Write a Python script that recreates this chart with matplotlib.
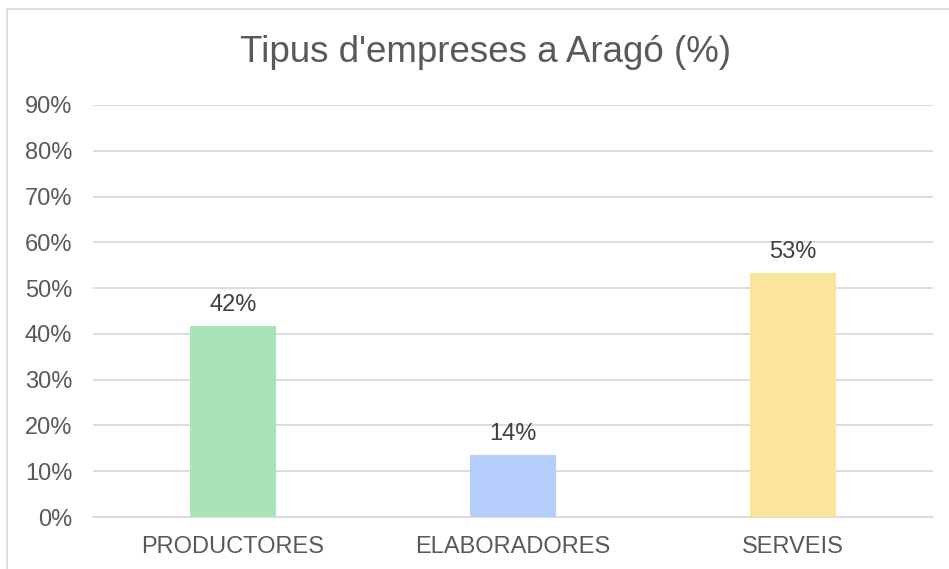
import matplotlib
matplotlib.use('Agg')
import matplotlib.pyplot as plt
from matplotlib.patches import Rectangle

categories = ['PRODUCTORES', 'ELABORADORES', 'SERVEIS']
values = [41.7, 13.6, 53.3]
colors = ['#a8e4b8', '#b4cdfa', '#fbe49c']
yticks = [0, 10, 20, 30, 40, 50, 60, 70, 80, 90]

plt.rcParams['font.family'] = ['Liberation Sans', 'DejaVu Sans']

W, H = 949, 569
fig = plt.figure(figsize=(W / 100, H / 100), dpi=100)

# chart frame (partly cut off on the right and bottom)
fig.patches.append(Rectangle((7 / W, -0.1), 1.2, 1 - 9 / H + 0.1, transform=fig.transFigure,
                             fill=False, edgecolor='#d9d9d9', linewidth=1.2))

ax = fig.add_axes([93 / W, (H - 517) / H, 840 / W, (517 - 105) / H])
x = range(len(categories))
bars = ax.bar(x, values, width=0.31, color=colors, zorder=3)
ax.set_xlim(-0.5, len(categories) - 0.5)
ax.set_ylim(0, 90)
ax.set_yticks(yticks)
ax.set_yticklabels([f'{t}%' for t in yticks])
ax.set_xticks(list(x))
ax.set_xticklabels(categories)
ax.yaxis.grid(True, color='#d9d9d9', linewidth=1.3, zorder=0)
ax.set_axisbelow(True)
for s in ['top', 'right', 'left']:
    ax.spines[s].set_visible(False)
ax.spines['bottom'].set_color('#d9d9d9')
ax.spines['bottom'].set_linewidth(1.3)
ax.tick_params(axis='both', length=0, labelsize=17, colors='#595959')
ax.tick_params(axis='y', pad=15)
ax.tick_params(axis='x', pad=14)

for b, v in zip(bars, values):
    ax.annotate(f'{v:.0f}%', (b.get_x() + b.get_width() / 2, v), xytext=(0, 7),
                textcoords='offset points', ha='center', va='bottom',
                fontsize=17, color='#404040')

fig.text(485 / W, 1 - 52 / H, "Tipus d'empreses a Aragó (%)", ha='center', va='center',
         fontsize=26.5, color='#595959')

fig.savefig('out.png', dpi=100)
